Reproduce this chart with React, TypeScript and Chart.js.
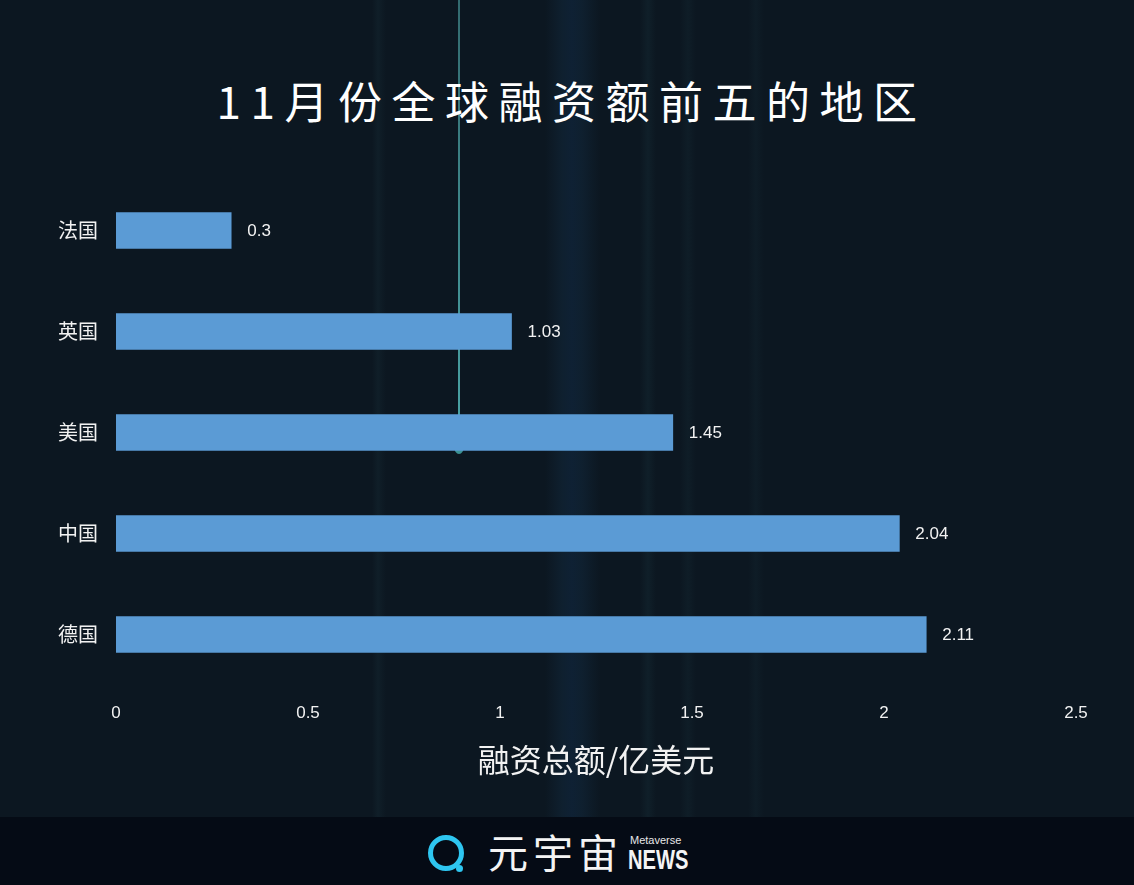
import React, { useEffect, useRef } from "react";
import { Chart, registerables } from "chart.js";

Chart.register(...registerables);

const categories = ["法国", "英国", "美国", "中国", "德国"];
const values = [0.3, 1.03, 1.45, 2.04, 2.11];
const xTicks = [0, 0.5, 1, 1.5, 2, 2.5];
const titleText = "11月份全球融资额前五的地区";
const xAxisTitle = "融资总额/亿美元";

const BAR_COLOR = "#5b9bd5";
const TEXT_COLOR = "#f2f2f2";

const valueLabelPlugin = {
  id: "valueLabels",
  afterDatasetsDraw(chart: any) {
    const { ctx } = chart;
    const meta = chart.getDatasetMeta(0);
    ctx.save();
    ctx.fillStyle = TEXT_COLOR;
    ctx.font = '17px "Liberation Sans", "Noto Sans", sans-serif';
    ctx.textAlign = "left";
    ctx.textBaseline = "middle";
    meta.data.forEach((el: any, i: number) => {
      ctx.fillText(String(values[i]), el.x + 16, el.y + 1);
    });
    ctx.restore();
  },
};

export default function App() {
  const canvasRef = useRef<HTMLCanvasElement | null>(null);

  useEffect(() => {
    document.body.style.margin = "0";
    const ctx = canvasRef.current!.getContext("2d")!;
    const chart = new Chart(ctx, {
      type: "bar",
      data: {
        labels: categories,
        datasets: [
          {
            data: values,
            backgroundColor: BAR_COLOR,
            borderWidth: 0,
            barThickness: 36,
          },
        ],
      },
      options: {
        indexAxis: "y",
        animation: false,
        responsive: false,
        maintainAspectRatio: false,
        layout: { padding: { top: 180, right: 58, left: 0, bottom: 38 } },
        plugins: {
          legend: { display: false },
          tooltip: { enabled: false },
          title: { display: false },
        },
        scales: {
          x: {
            min: 0,
            max: 2.5,
            afterBuildTicks: (scale: any) => {
              scale.ticks = xTicks.map((v) => ({ value: v }));
            },
            grid: { display: false, drawTicks: false },
            border: { display: false },
            ticks: {
              color: TEXT_COLOR,
              font: { size: 17, family: '"Liberation Sans Narrow", "Liberation Sans", sans-serif' },
              padding: 18,
              maxRotation: 0,
              callback: (v: any) => String(Number(v)),
            },
            title: {
              display: true,
              text: xAxisTitle,
              color: TEXT_COLOR,
              font: { size: 32, family: '"Noto Sans CJK SC", sans-serif' },
              padding: { top: 10, bottom: 0 },
            },
            afterFit: (scale: any) => {
              scale.height = 94;
            },
          },
          y: {
            grid: { display: false, drawTicks: false },
            border: { display: false },
            ticks: {
              color: TEXT_COLOR,
              font: { size: 20, family: '"Noto Sans CJK SC", sans-serif' },
              padding: 18,
            },
            afterFit: (scale: any) => {
              scale.width = 116;
            },
          },
        },
      },
      plugins: [valueLabelPlugin],
    });
    return () => chart.destroy();
  }, []);

  const streaks = [
    "linear-gradient(90deg, transparent 0, transparent 372px, rgba(60,120,130,0.08) 378px, transparent 386px)",
    "linear-gradient(90deg, transparent 0, transparent 545px, rgba(40,110,170,0.10) 562px, rgba(30,90,160,0.15) 572px, rgba(40,110,170,0.10) 582px, transparent 600px)",
    "linear-gradient(90deg, transparent 0, transparent 640px, rgba(60,130,140,0.08) 648px, transparent 656px)",
    "linear-gradient(90deg, transparent 0, transparent 680px, rgba(60,130,140,0.06) 688px, transparent 696px)",
    "linear-gradient(90deg, transparent 0, transparent 748px, rgba(60,130,140,0.05) 756px, transparent 764px)",
  ];

  return (
    <div
      style={{
        position: "fixed",
        left: 0,
        top: 0,
        width: 1134,
        height: 885,
        overflow: "hidden",
        backgroundColor: "#0c1721",
        backgroundImage: streaks.join(","),
      }}
    >
      <div
        style={{
          position: "absolute",
          left: 458,
          top: 0,
          width: 2,
          height: 445,
          background: "linear-gradient(180deg, rgba(90,190,190,0.5), rgba(90,200,200,0.8))",
        }}
      />
      <div
        style={{
          position: "absolute",
          left: 454,
          top: 438,
          width: 10,
          height: 16,
          borderRadius: "50%",
          background: "rgba(80,200,200,0.7)",
        }}
      />
      <div
        style={{
          position: "absolute",
          left: 0,
          top: 70,
          width: 1134,
          textAlign: "center",
          color: "#ffffff",
          fontFamily: '"Noto Sans CJK SC", sans-serif',
          fontSize: 44,
          lineHeight: "60px",
          letterSpacing: 9.5,
          paddingLeft: 9,
          boxSizing: "border-box",
        }}
      >
        {titleText}
      </div>
      <canvas
        ref={canvasRef}
        width={1134}
        height={817}
        style={{ position: "absolute", left: 0, top: 0, width: 1134, height: 817 }}
      />
      <div
        style={{
          position: "absolute",
          left: 0,
          top: 817,
          width: 1134,
          height: 68,
          background: "#050b15",
        }}
      >
        <div
          style={{
            position: "absolute",
            left: 428,
            top: 18,
            width: 26,
            height: 26,
            borderRadius: "50%",
            border: "5px solid #2ec6f0",
          }}
        />
        <div
          style={{
            position: "absolute",
            left: 456,
            top: 48,
            width: 7,
            height: 7,
            borderRadius: "50%",
            background: "#2ec6f0",
          }}
        />
        <div
          style={{
            position: "absolute",
            left: 488,
            top: 10,
            color: "#f4f4f4",
            fontFamily: '"Noto Sans CJK SC", sans-serif',
            fontSize: 40,
            lineHeight: "48px",
            letterSpacing: 5,
          }}
        >
          元宇宙
        </div>
        <div
          style={{
            position: "absolute",
            left: 630,
            top: 17,
            color: "#e8e8e8",
            fontFamily: '"Liberation Sans Narrow", sans-serif',
            fontSize: 11,
            lineHeight: "12px",
          }}
        >
          Metaverse
        </div>
        <div
          style={{
            position: "absolute",
            left: 628,
            top: 29,
            color: "#f4f4f4",
            fontFamily: '"Liberation Sans Narrow", sans-serif',
            fontWeight: "bold",
            fontSize: 28,
            lineHeight: "28px",
            transform: "scaleX(0.72)",
            transformOrigin: "left top",
          }}
        >
          NEWS
        </div>
      </div>
    </div>
  );
}
